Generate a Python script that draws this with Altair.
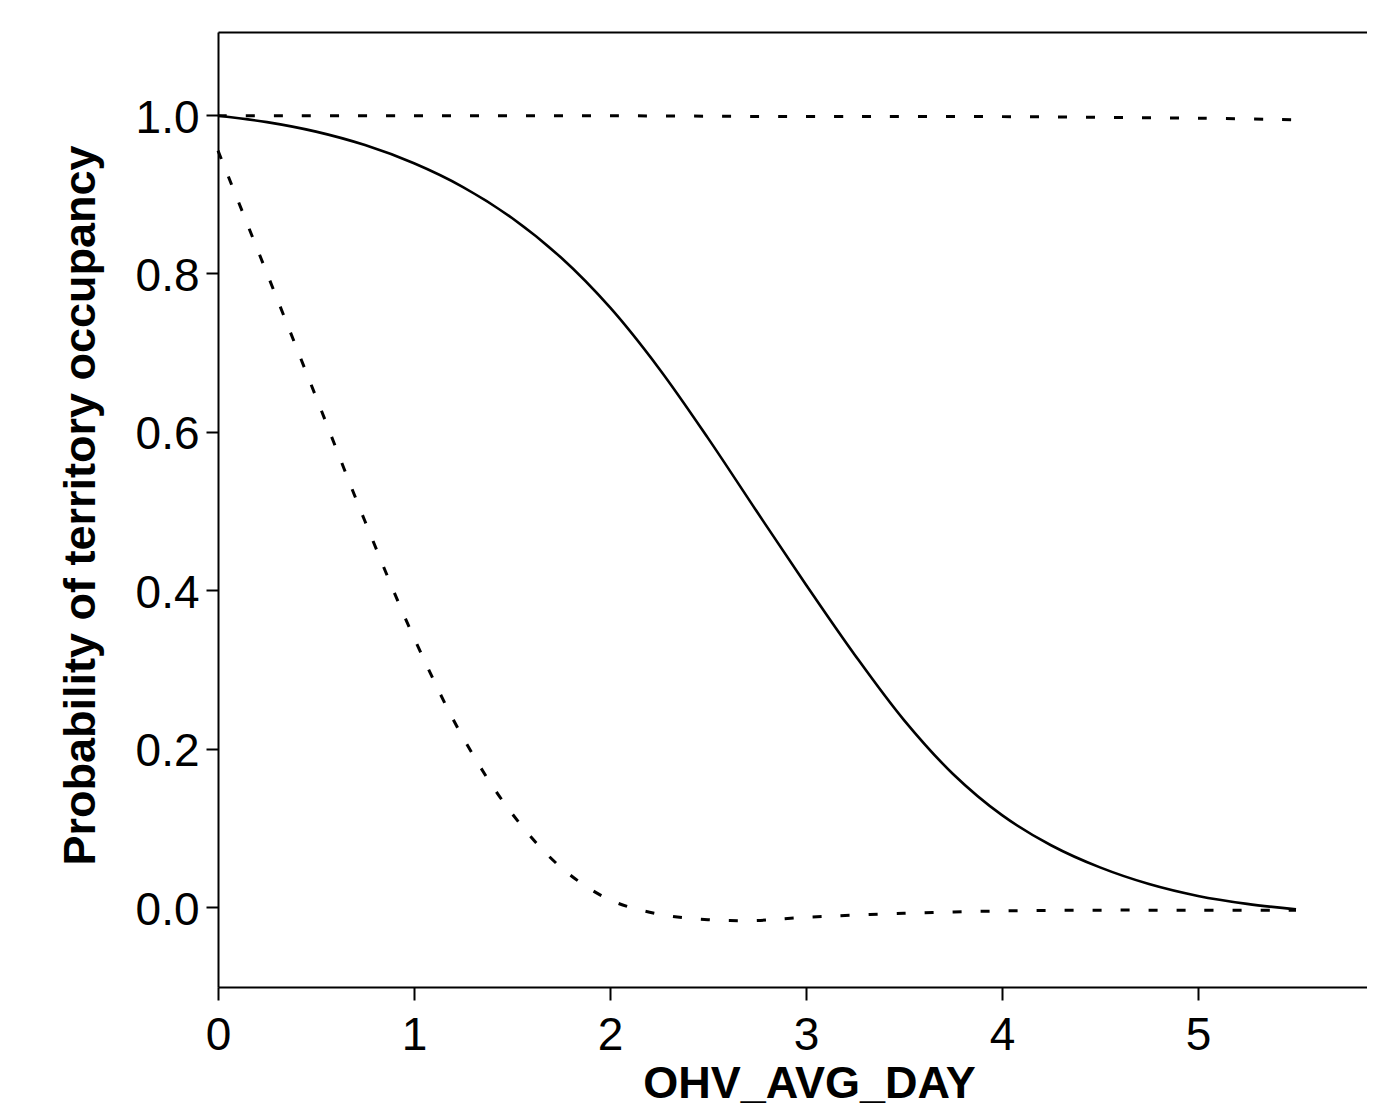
import altair as alt
import pandas as pd

# ---- data ----
x_fit = [0, 0.25, 0.5, 0.75, 1.0, 1.25, 1.5, 1.75, 2.0, 2.25, 2.5, 2.75,
         3.0, 3.25, 3.5, 3.75, 4.0, 4.25, 4.5, 4.75, 5.0, 5.25, 5.5]
y_fit = [0.999, 0.991, 0.979, 0.962, 0.939, 0.909, 0.870, 0.820, 0.757, 0.680,
         0.592, 0.499, 0.407, 0.318, 0.236, 0.168, 0.116, 0.078, 0.050, 0.029,
         0.014, 0.004, -0.003]

x_upper = [0, 1.0, 2.0, 3.0, 3.5, 4.0, 4.5, 5.0, 5.5]
y_upper = [0.999, 0.999, 0.999, 0.998, 0.998, 0.998, 0.997, 0.996, 0.994]

x_lower = [0, 0.25, 0.5, 0.75, 1.0, 1.25, 1.5, 1.75, 2.0, 2.25, 2.5, 2.75,
           3.0, 3.5, 4.0, 4.5, 5.0, 5.5]
y_lower = [0.955, 0.800, 0.644, 0.487, 0.340, 0.214, 0.118, 0.050, 0.009,
           -0.009, -0.016, -0.017, -0.013, -0.008, -0.005, -0.004, -0.004, -0.004]

x_ticks = [0, 1, 2, 3, 4, 5]
y_ticks = [0.0, 0.2, 0.4, 0.6, 0.8, 1.0]

x_title = "OHV_AVG_DAY"
y_title = "Probability of territory occupancy"

fit_df = pd.DataFrame({"x": x_fit, "y": y_fit})
ci_df = pd.concat([
    pd.DataFrame({"x": x_upper, "y": y_upper, "band": "upper"}),
    pd.DataFrame({"x": x_lower, "y": y_lower, "band": "lower"}),
], ignore_index=True)

W, H = 1149, 955
xscale = alt.Scale(domain=[0, W / 196.0], nice=False, zero=False)
yscale = alt.Scale(domain=[-0.1010, 1.1048], nice=False, zero=False)

yaxis = alt.Axis(
    values=y_ticks, format=".1f", grid=False, orient="left",
    tickSize=12, tickWidth=2, tickColor="black",
    domainWidth=2, domainColor="black",
    labelFontSize=46, labelPadding=7, labelOffset=3, labelColor="black",
    labelFlush=False,
    title=y_title, titleFontSize=45, titleFontWeight="bold", titleColor="black",
    titleAngle=270, titleX=-124, titleY=473, titleAlign="center",
    titleBaseline="alphabetic",
)

xaxis_bottom = alt.Axis(
    values=x_ticks, format="d", grid=False, orient="bottom",
    tickSize=13, tickWidth=2, tickColor="black",
    domainWidth=2, domainColor="black",
    labelFontSize=46, labelPadding=13, labelColor="black", labelFlush=False,
    title=x_title, titleFontSize=45, titleFontWeight="bold", titleColor="black",
    titleX=591, titleY=110, titleAlign="center", titleBaseline="alphabetic",
)

xaxis_top = alt.Axis(
    orient="top", labels=False, ticks=False, grid=False, title=None,
    domainWidth=2, domainColor="black",
)

fit_line = alt.Chart(fit_df).mark_line(
    color="black", strokeWidth=2.6, interpolate="catmull-rom"
).encode(
    x=alt.X("x:Q", scale=xscale, axis=xaxis_bottom),
    y=alt.Y("y:Q", scale=yscale, axis=yaxis),
)

ci_lines = alt.Chart(ci_df).mark_line(
    color="black", strokeWidth=3, strokeDash=[9, 19], interpolate="catmull-rom"
).encode(
    x=alt.X("x:Q", scale=xscale, axis=xaxis_top),
    y=alt.Y("y:Q", scale=yscale, axis=yaxis),
    detail="band:N",
)

chart = alt.layer(fit_line, ci_lines).properties(
    width=W, height=H,
    autosize=alt.AutoSizeParams(type="none"),
    padding={"left": 210, "top": 24, "right": 0, "bottom": 121},
).configure_view(stroke=None).configure(
    font="Liberation Sans", background="white"
)

chart.save("out.html", embed_options={"renderer": "svg", "actions": False})
